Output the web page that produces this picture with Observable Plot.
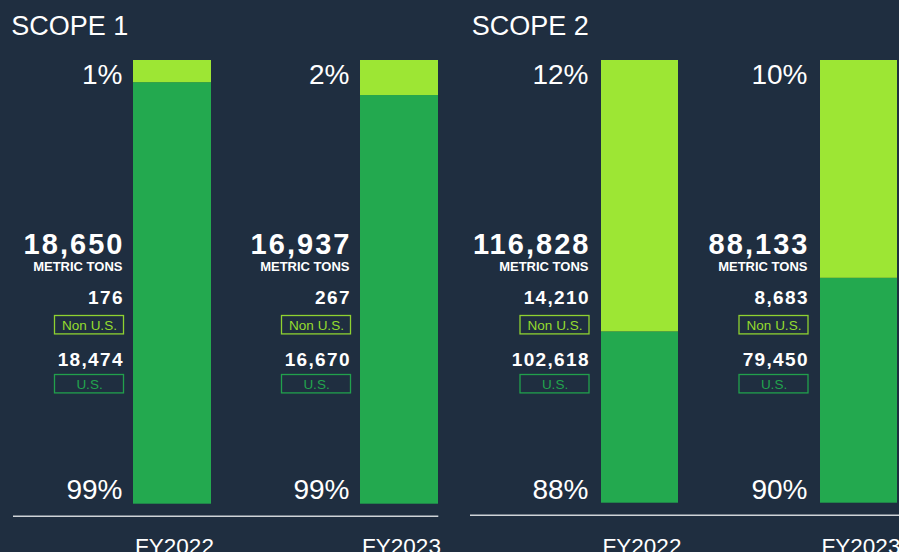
<!DOCTYPE html>
<html><head><meta charset="utf-8">
<script src="https://cdn.jsdelivr.net/npm/d3@7"></script>
<script src="https://cdn.jsdelivr.net/npm/@observablehq/plot@0.6"></script>
<style>
html,body{margin:0;padding:0;background:#1f2e40;}
#chart{display:flex;width:899px;height:552px;overflow:hidden;}
svg{display:block;overflow:visible;}
g[aria-description="total"] text, g[aria-description="part"] text{letter-spacing:0.07em;}
</style></head><body><div id="chart"></div>
<script>
// ---- data ----
const scopes = ["SCOPE 1", "SCOPE 2"];
const years = ["FY2022", "FY2023"];
const segments = ["U.S.", "Non U.S."];
const totalTons = [[18650, 16937], [116828, 88133]];
const nonUsTons = [[176, 267], [14210, 8683]];
const usTons = [[18474, 16670], [102618, 79450]];
const nonUsPct = [[1, 2], [12, 10]];
const usPct = [[99, 99], [88, 90]];
// bar split as drawn in the picture (share of bar height)
const barUsShare = [[0.950, 0.921], [0.387, 0.508]];
const barNonUsShare = [[0.050, 0.079], [0.613, 0.492]];

// ---- style ----
const LIGHT = "#9de634", DARK = "#23a94f", WHITE = "#ffffff";
const NONUS_TXT = "#95dc2e", US_TXT = "#22a44d", RULE = "#cfd3d8";
const FONT = "Liberation Sans, Arial, Helvetica, sans-serif";
const fmt = d3.format(",");

const layouts = [
  {width: 450, marginLeft: 133, step: 227, bw: 78, marginTop: 60, frameBottom: 503.7, labelGap: 11, boxGap: 9.5, ruleLeft: 13, ruleRight: 438.3, ruleY: 515.7, titleX: 10.7},
  {width: 449, marginLeft: 151, step: 219, bw: 77, marginTop: 60, frameBottom: 502.7, labelGap: 13, boxGap: 12, ruleLeft: 20, ruleRight: 449, ruleY: 514.7, titleX: 21.2}
];
const H = 552, BOXW = 69, BOXH = 18.4;

scopes.forEach((scope, s) => {
  const L = layouts[s];
  const rows = years.map((year, j) => ({
    year, total: totalTons[s][j], nonUs: nonUsTons[s][j], us: usTons[s][j],
    nonUsPct: nonUsPct[s][j], usPct: usPct[s][j]
  }));
  const bars = years.flatMap((year, j) => [
    {year, segment: segments[0], share: barUsShare[s][j]},
    {year, segment: segments[1], share: barNonUsShare[s][j]}
  ]);
  const marginRight = L.width - L.marginLeft - L.step - L.bw;
  const marginBottom = H - L.frameBottom;
  const top = L.marginTop;
  const lx = -(L.bw / 2 + L.labelGap);
  const bx = -(L.bw / 2 + L.boxGap + BOXW / 2);
  const lbl = (text, baseline, size, weight, extra = {}) => Plot.text(rows, {
    x: "year", text, frameAnchor: "top", dy: baseline - top, dx: lx,
    lineAnchor: "bottom", textAnchor: "end", fontSize: size, fontWeight: weight,
    fill: WHITE, ...extra
  });
  const box = (boxTop, stroke) => Plot.barY(rows, {
    x: "year", y1: () => 0, y2: () => 1, fill: "none", stroke, strokeWidth: 1.3,
    insetTop: boxTop - top, insetBottom: L.frameBottom - (boxTop + BOXH),
    insetLeft: -(L.boxGap + BOXW), insetRight: L.bw + L.boxGap
  });
  const svg = Plot.plot({
    width: L.width, height: H,
    marginLeft: L.marginLeft, marginRight, marginTop: top, marginBottom,
    style: {background: "transparent", fontFamily: FONT, color: WHITE, overflow: "visible"},
    x: {type: "band", domain: years, paddingInner: 1 - L.bw / L.step, paddingOuter: 0, round: false, axis: null},
    y: {domain: [0, 1], axis: null},
    color: {domain: segments, range: [DARK, LIGHT]},
    marks: [
      Plot.barY(bars, {x: "year", y: "share", fill: "segment"}),
      Plot.ruleY([0], {dy: L.ruleY - L.frameBottom, insetLeft: L.ruleLeft - L.marginLeft,
        insetRight: (L.width - marginRight) - L.ruleRight, stroke: RULE, strokeWidth: 1.5}),
      lbl(d => d.nonUsPct + "%", 83, 28, "normal"),
      lbl(d => fmt(d.total), 253.3, 29, "bold", {ariaDescription: "total", dx: lx + 2}),
      lbl(() => "METRIC TONS", 270, 13, "bold"),
      lbl(d => fmt(d.nonUs), 303.3, 19, "bold", {ariaDescription: "part", dx: lx + 1.3}),
      box(315.5, "#8fd230"),
      Plot.text(rows, {x: "year", text: () => segments[1], frameAnchor: "top", dy: 329.3 - top, dx: bx,
        lineAnchor: "bottom", textAnchor: "middle", fontSize: 13.5, fill: NONUS_TXT}),
      lbl(d => fmt(d.us), 365.7, 19, "bold", {ariaDescription: "part", dx: lx + 1.3}),
      box(374.5, "#21a04c"),
      Plot.text(rows, {x: "year", text: () => segments[0], frameAnchor: "top", dy: 388.5 - top, dx: bx,
        lineAnchor: "bottom", textAnchor: "middle", fontSize: 13.5, fill: US_TXT}),
      lbl(d => d.usPct + "%", 498.2, 28, "normal"),
      Plot.text(rows, {x: "year", text: "year", frameAnchor: "bottom", dy: 553 - L.frameBottom, dx: 2,
        lineAnchor: "bottom", textAnchor: "middle", fontSize: 22.5, fill: WHITE}),
      Plot.text([scope], {frameAnchor: "top-left", dx: L.titleX - L.marginLeft, dy: 34 - top,
        lineAnchor: "bottom", textAnchor: "start", fontSize: 27, fill: WHITE})
    ]
  });
  document.getElementById("chart").appendChild(svg);
});
</script></body></html>
